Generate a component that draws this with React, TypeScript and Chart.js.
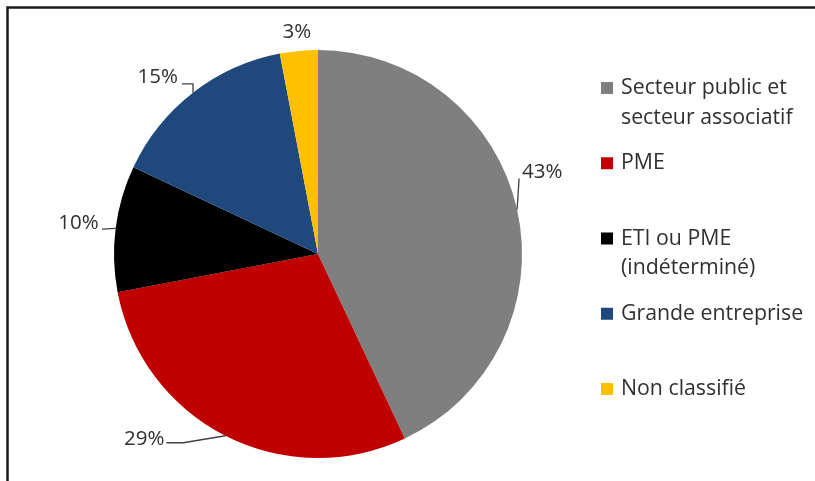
import React, { useEffect, useRef } from 'react';
import { Chart, registerables } from 'chart.js';

Chart.register(...registerables);

const categories = [
  'Secteur public et secteur associatif',
  'PME',
  'ETI ou PME (indéterminé)',
  'Grande entreprise',
  'Non classifié',
];
const legendLines = [
  ['Secteur public et', 'secteur associatif'],
  ['PME'],
  ['ETI ou PME', '(indéterminé)'],
  ['Grande entreprise'],
  ['Non classifié'],
];
const values = [43, 29, 10, 15, 3];
const valueLabels = ['43%', '29%', '10%', '15%', '3%'];
const colors = ['#7F7F7F', '#C00000', '#000000', '#1F497D', '#FFC000'];

const FONT = '"Open Sans", "Noto Sans", sans-serif';
const TEXT_COLOR = '#303030';

// label placement relative to each slice's outer mid-point
const labelPlacement = [
  { leader: [[2, -31]], text: [5, -37], align: 'left' },
  { leader: [[-42, 7], [-59, 7]], text: [-61, 3], align: 'right' },
  { leader: [[-13.6, 0.6]], text: [-17, -5.4], align: 'right' },
  { leader: [[0, -9], [-11, -9]], text: [-15, -16], align: 'right' },
  { leader: [], text: [-2, -19], align: 'center' },
];

const framePlugin = {
  id: 'frame',
  beforeDraw(chart: any) {
    const ctx = chart.ctx;
    ctx.save();
    ctx.fillStyle = '#ffffff';
    ctx.fillRect(0, 0, chart.width, chart.height);
    ctx.strokeStyle = '#1a1a1a';
    ctx.lineWidth = 2.5;
    ctx.beginPath();
    ctx.moveTo(7.5, chart.height);
    ctx.lineTo(7.5, 7.5);
    ctx.lineTo(chart.width, 7.5);
    ctx.stroke();
    ctx.restore();
  },
};

const labelsPlugin = {
  id: 'sliceLabels',
  afterDatasetsDraw(chart: any) {
    const ctx = chart.ctx;
    const meta = chart.getDatasetMeta(0);
    ctx.save();
    meta.data.forEach((arc: any, i: number) => {
      const p = arc.getProps(['x', 'y', 'startAngle', 'endAngle', 'outerRadius'], true);
      const mid = (p.startAngle + p.endAngle) / 2;
      const ax = p.x + Math.cos(mid) * p.outerRadius;
      const ay = p.y + Math.sin(mid) * p.outerRadius;
      const cfg = labelPlacement[i];
      if (cfg.leader.length) {
        ctx.strokeStyle = '#404040';
        ctx.lineWidth = 1.3;
        ctx.beginPath();
        ctx.moveTo(ax, ay);
        cfg.leader.forEach((pt: number[]) => ctx.lineTo(ax + pt[0], ay + pt[1]));
        ctx.stroke();
      }
      ctx.fillStyle = TEXT_COLOR;
      ctx.font = `20.5px ${FONT}`;
      ctx.textAlign = cfg.align;
      ctx.textBaseline = 'middle';
      ctx.fillText(valueLabels[i], ax + cfg.text[0], ay + cfg.text[1]);
    });
    ctx.restore();
  },
};

const legendPlugin = {
  id: 'sideLegend',
  afterDraw(chart: any) {
    const ctx = chart.ctx;
    ctx.save();
    const x0 = 601;
    const y0 = 88;
    const step = 75.25;
    const lineH = 29.5;
    legendLines.forEach((lines, i) => {
      const y = y0 + i * step;
      ctx.fillStyle = colors[i];
      ctx.fillRect(x0, y - 6, 12, 12);
      ctx.fillStyle = TEXT_COLOR;
      ctx.font = `21.3px ${FONT}`;
      ctx.textAlign = 'left';
      ctx.textBaseline = 'middle';
      lines.forEach((t, j) => ctx.fillText(t, x0 + 20, y + j * lineH));
    });
    ctx.restore();
  },
};

export default function App() {
  const ref = useRef<HTMLCanvasElement>(null);
  useEffect(() => {
    if (!ref.current) return;
    const chart = new Chart(ref.current, {
      type: 'pie',
      data: {
        labels: categories,
        datasets: [
          {
            data: values,
            backgroundColor: colors,
            borderWidth: 0,
          },
        ],
      },
      options: {
        responsive: false,
        animation: false,
        layout: { padding: { left: 114, right: 293, top: 50, bottom: 23 } },
        plugins: {
          legend: { display: false },
          tooltip: { enabled: false },
        },
      },
      plugins: [framePlugin, labelsPlugin, legendPlugin],
    });
    return () => chart.destroy();
  }, []);
  return (
    <div style={{ position: 'fixed', left: 0, top: 0, width: 815, height: 481, background: '#fff' }}>
      <canvas ref={ref} width={815} height={481} style={{ display: 'block' }} />
    </div>
  );
}
